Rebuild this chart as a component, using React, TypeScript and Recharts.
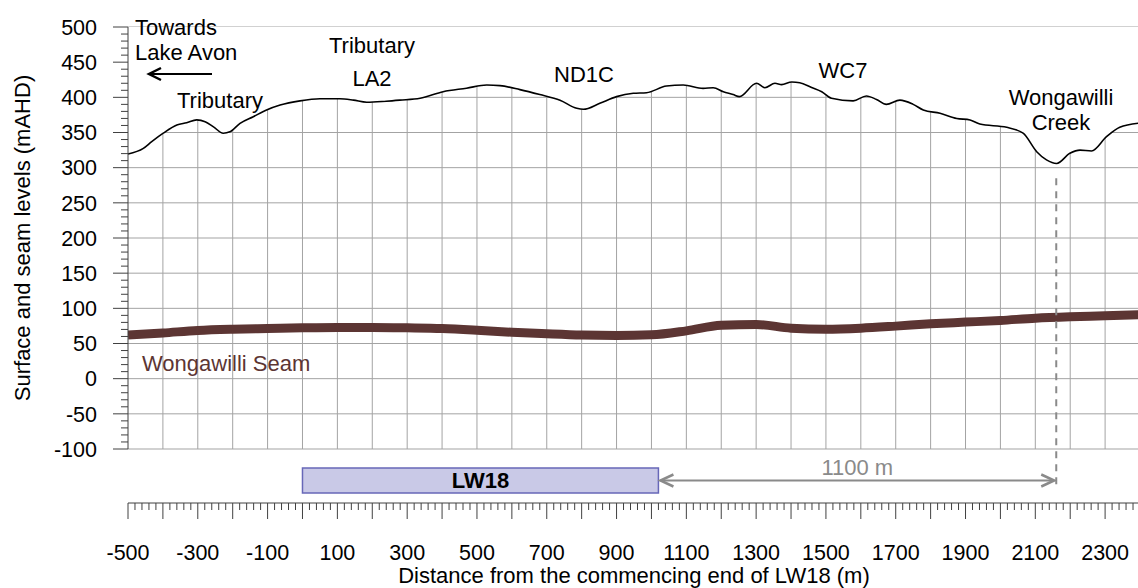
import React from 'react'
import {
  ComposedChart,
  Line,
  Area,
  XAxis,
  YAxis,
  CartesianGrid,
  ReferenceArea,
  ReferenceLine,
} from 'recharts'

// surface profile along the centreline
const surfaceDist = [
  -500, -456, -432, -399, -360, -332, -303, -279, -255, -227, -208, -179, -141, -103, -64, -7,
  50, 107, 146, 184, 240, 279, 337, 403, 470, 528, 566, 623, 680, 738, 786, 805, 852, 900, 948,
  986, 1043, 1091, 1148, 1177, 1206, 1234, 1252, 1301, 1325, 1354, 1373, 1402, 1425, 1459, 1488,
  1516, 1578, 1616, 1645, 1673, 1712, 1750, 1779, 1827, 1875, 1913, 1941, 2018, 2065, 2104, 2132,
  2161, 2199, 2228, 2261, 2304, 2342, 2400,
]
const surfaceLevel = [
  319.5, 327.5, 337, 349, 360.7, 364, 368, 365.4, 358, 349, 351, 363, 372.5, 382, 389, 395,
  398, 398, 396, 393, 394.5, 396, 398.6, 408, 413, 417.5, 416.6, 411, 404, 396, 384.4, 383, 391.5, 401, 405.7,
  406.6, 416, 417.5, 412.8, 413.7, 408, 404, 401, 420, 413.7, 420, 418, 421.8, 420.8, 414, 408,
  398.6, 395, 402, 397, 390, 396, 390, 382, 377.3, 370, 367.8, 362, 357.4, 349, 322.7, 311,
  306, 320.4, 325, 323.7, 344, 357.4, 363.5,
]

// Wongawilli Seam floor level
const seamDist = [
  -500, -400, -300, -200, -100, 0, 100, 200, 300, 400, 500, 600, 700, 800, 900, 1000, 1100, 1200,
  1300, 1400, 1500, 1600, 1700, 1800, 1900, 2000, 2100, 2200, 2300, 2400,
]
const seamLevel = [
  62, 65, 68.6, 70.4, 71.4, 72.3, 72.8, 72.8, 72.3, 71.4, 69, 66, 63.8, 62, 61.4, 62.3, 68, 76,
  77, 71.8, 70.4, 71.8, 74.7, 78, 80.4, 82.8, 86, 88, 89.4, 91,
]

const levelGrid = [-100, -50, 0, 50, 100, 150, 200, 250, 300, 350, 400, 450, 500]
const distGrid = [
  -400, -300, -200, -100, 0, 100, 200, 300, 400, 500, 600, 700, 800, 900, 1000, 1100, 1200, 1300,
  1400, 1500, 1600, 1700, 1800, 1900, 2000, 2100, 2200, 2300,
]
const levelTicks = Array.from({ length: 61 }, (_, i) => -100 + i * 10)
const distTicks = Array.from({ length: 146 }, (_, i) => -500 + i * 20)

const panel = { name: 'LW18', start: 0, end: 1020 }
const creekDist = 2160

const surfaceData = surfaceDist.map((d, i) => ({ dist: d, surface: surfaceLevel[i] }))
const seamData = seamDist.map((d, i) => ({ dist: d, seam: seamLevel[i] }))

const FONT = '"Liberation Sans", Arial, sans-serif'
const AXIS = '#404040'
const GRID = '#a3a3a3'
const SEAM = '#5c3533'
const NOTE = '#8a8a8a'

function LevelTick({ x, y, payload }: any) {
  const v = payload.value
  const major = v % 50 === 0
  return (
    <g>
      <line x1={x - (major ? 15 : 7)} x2={x} y1={y} y2={y} stroke={AXIS} strokeWidth={1} />
      {major && (
        <text x={x - 31} y={y} dy="0.36em" textAnchor="end" fontSize={21.5} fontFamily={FONT} fill="#000">
          {v}
        </text>
      )}
    </g>
  )
}

function DistTick({ x, y, payload }: any) {
  const v = payload.value
  const major = v % 100 === 0
  const labelled = (v + 500) % 200 === 0
  return (
    <g>
      <line x1={x} x2={x} y1={y} y2={y + (major ? 16 : 7)} stroke={AXIS} strokeWidth={1} />
      {labelled && (
        <text x={x} y={y + 49} dy="0.36em" textAnchor="middle" fontSize={21.5} fontFamily={FONT} fill="#000">
          {v}
        </text>
      )}
    </g>
  )
}

// double headed distance arrow with its label
function SpanArrow({ x1, y1, x2 }: any) {
  return (
    <g>
      <line x1={x1 + 2} y1={y1} x2={x2 - 2} y2={y1} stroke={NOTE} strokeWidth={2} />
      <polyline points={`${x1 + 15},${y1 - 6} ${x1 + 2},${y1} ${x1 + 15},${y1 + 6}`} fill="none" stroke={NOTE} strokeWidth={2.5} />
      <polyline points={`${x2 - 15},${y1 - 6} ${x2 - 2},${y1} ${x2 - 15},${y1 + 6}`} fill="none" stroke={NOTE} strokeWidth={2.5} />
      <text x={(x1 + x2) / 2} y={y1 - 13} dy="0.36em" textAnchor="middle" fontSize={22} fontFamily={FONT} fill={NOTE}>
        1100 m
      </text>
    </g>
  )
}

const notes = [
  { text: 'Towards', x: 135, y: 27, anchor: 'start' },
  { text: 'Lake Avon', x: 135, y: 52, anchor: 'start' },
  { text: 'Tributary', x: 220, y: 100, anchor: 'middle' },
  { text: 'Tributary', x: 372, y: 45, anchor: 'middle' },
  { text: 'LA2', x: 372, y: 78, anchor: 'middle' },
  { text: 'ND1C', x: 584, y: 74, anchor: 'middle' },
  { text: 'WC7', x: 843, y: 70, anchor: 'middle' },
  { text: 'Wongawilli', x: 1061, y: 97, anchor: 'middle' },
  { text: 'Creek', x: 1061, y: 122, anchor: 'middle' },
]

export default function App() {
  return (
    <div style={{ position: 'absolute', left: 0, top: 0, width: 1138, height: 588, overflow: 'hidden', background: '#fff' }}>
      <ComposedChart
        width={1142}
        height={588}
        margin={{ top: 27, right: 2, bottom: 0, left: 0 }}
        style={{ fontFamily: FONT }}
      >
        <CartesianGrid
          xAxisId="main"
          stroke={GRID}
          strokeWidth={1}
          horizontalValues={levelGrid}
          verticalValues={distGrid}
        />
        {/* empty spacer axis: leaves room for the panel bar under the plot */}
        <XAxis
          xAxisId="gap"
          type="number"
          dataKey="dist"
          domain={[-500, 2400]}
          allowDataOverflow
          height={54}
          axisLine={false}
          tickLine={false}
          tick={false}
        />
        <XAxis
          xAxisId="main"
          type="number"
          dataKey="dist"
          domain={[-500, 2400]}
          allowDataOverflow
          ticks={distTicks}
          interval={0}
          height={85}
          tickSize={0}
          tickMargin={0}
          tickLine={false}
          tick={<DistTick />}
          axisLine={{ stroke: AXIS, strokeWidth: 1 }}
          label={{
            value: 'Distance from the commencing end of LW18 (m)',
            position: 'insideBottom',
            offset: 5,
            fontSize: 22,
            fill: '#000',
          }}
        />
        <YAxis
          type="number"
          domain={[-100, 500]}
          allowDataOverflow
          ticks={levelTicks}
          interval={0}
          width={128}
          tickSize={0}
          tickMargin={0}
          tickLine={false}
          tick={<LevelTick />}
          axisLine={{ stroke: AXIS, strokeWidth: 1 }}
          label={{
            value: 'Surface and seam levels (mAHD)',
            angle: -90,
            position: 'insideLeft',
            offset: 22,
            fontSize: 22,
            fill: '#000',
            style: { textAnchor: 'middle' },
          }}
        />
        {/* white fill above the surface hides the grid there */}
        <Area
          xAxisId="main"
          data={surfaceData}
          dataKey="surface"
          type="monotone"
          baseValue="dataMax"
          stroke="none"
          fill="#fff"
          fillOpacity={1}
          isAnimationActive={false}
        />
        <Line
          xAxisId="main"
          data={surfaceData}
          dataKey="surface"
          type="monotone"
          stroke="#000"
          strokeWidth={1.6}
          dot={false}
          isAnimationActive={false}
        />
        <Line
          xAxisId="main"
          data={seamData}
          dataKey="seam"
          type="monotone"
          stroke={SEAM}
          strokeWidth={9}
          dot={false}
          isAnimationActive={false}
        />
        <ReferenceLine
          xAxisId="main"
          segment={[{ x: creekDist, y: 285 }, { x: creekDist, y: -158 }]}
          stroke={NOTE}
          strokeWidth={2}
          strokeDasharray="7 6"
          ifOverflow="visible"
        />
        <ReferenceArea
          xAxisId="main"
          x1={panel.start}
          x2={panel.end}
          y1={-162.6}
          y2={-127}
          fill="#c9c9e7"
          fillOpacity={1}
          stroke="#6767b8"
          strokeWidth={1.5}
          ifOverflow="visible"
          label={{ value: panel.name, position: 'center', fontSize: 22, fontWeight: 'bold', fill: '#000' }}
        />
        <ReferenceLine
          xAxisId="main"
          segment={[{ x: panel.end, y: -144.8 }, { x: creekDist, y: -144.8 }]}
          ifOverflow="visible"
          shape={<SpanArrow />}
        />
      </ComposedChart>
      <svg
        width={1138}
        height={588}
        style={{ position: 'absolute', left: 0, top: 0, pointerEvents: 'none' }}
        fontFamily={FONT}
        fontSize={22}
      >
        {notes.map((n, i) => (
          <text key={i} x={n.x} y={n.y} dy="0.36em" textAnchor={n.anchor} fill="#000">
            {n.text}
          </text>
        ))}
        <line x1={150} y1={74} x2={212} y2={74} stroke="#000" strokeWidth={2} />
        <polyline points="161,68 149,74 161,80" fill="none" stroke="#000" strokeWidth={2.5} />
        <text x={142} y={363} dy="0.36em" textAnchor="start" fill={SEAM}>
          Wongawilli Seam
        </text>
      </svg>
    </div>
  )
}
